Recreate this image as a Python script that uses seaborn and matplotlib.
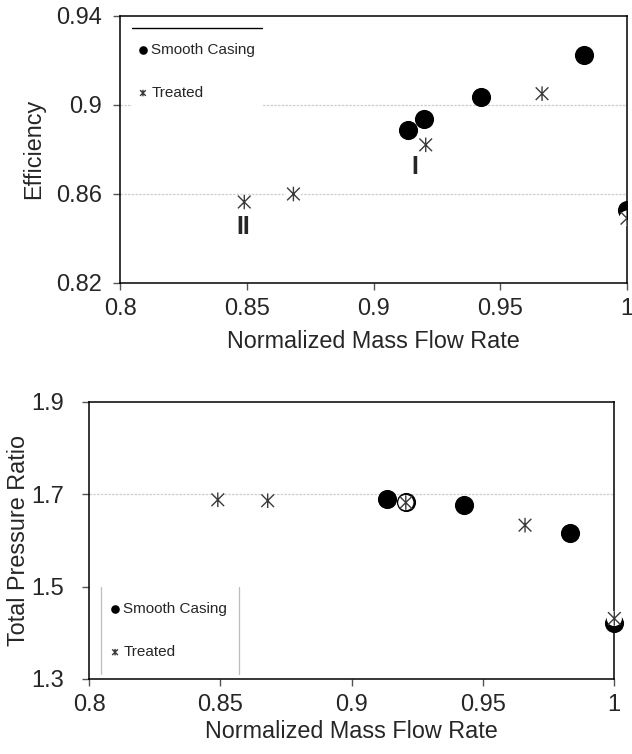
import matplotlib
matplotlib.use("Agg")
import matplotlib.pyplot as plt
from matplotlib.path import Path
from matplotlib.lines import Line2D
import seaborn as sns

# Smooth casing vs treated casing
smooth_flow = [0.9136, 0.9200, 0.9425, 0.9830, 1.0000]
smooth_eff = [0.8888, 0.8936, 0.9035, 0.9225, 0.8525]
smooth_flow_pr = [0.9136, 0.9206, 0.9426, 0.9830, 1.0000]
smooth_pr = [1.689, 1.684, 1.676, 1.617, 1.422]

treated_flow = [0.8490, 0.8684, 0.9206, 0.9665, 1.0000]
treated_eff = [0.8563, 0.8599, 0.8820, 0.9050, 0.8490]
treated_flow_pr = [0.8490, 0.8680, 0.9206, 0.9660, 1.0000]
treated_pr = [1.688, 1.686, 1.682, 1.633, 1.431]

x_ticks = [0.8, 0.85, 0.9, 0.95, 1.0]
x_tick_labels = ["0.8", "0.85", "0.9", "0.95", "1"]
eff_ticks = [0.82, 0.86, 0.9, 0.94]
eff_tick_labels = ["0.82", "0.86", "0.9", "0.94"]
pr_ticks = [1.3, 1.5, 1.7, 1.9]
pr_tick_labels = ["1.3", "1.5", "1.7", "1.9"]
eff_grid = [0.86, 0.9]
pr_grid = [1.7]

# operating point labels
point_labels = ["II", "I"]
point_label_x = [0.8485, 0.9164]
point_label_y = [0.8450, 0.8720]

sns.set_style("white")
plt.rcParams["font.family"] = ["Liberation Sans", "DejaVu Sans"]

# asterisk marker: an X with a vertical bar through it
star = Path(
    [(-1, -1), (1, 1), (-1, 1), (1, -1), (0, -1.15), (0, 1.15)],
    [Path.MOVETO, Path.LINETO, Path.MOVETO, Path.LINETO, Path.MOVETO, Path.LINETO],
)

fig = plt.figure(figsize=(6.32, 7.54), dpi=100)
ax1 = fig.add_axes([0.190, 0.625, 0.802, 0.354])
ax2 = fig.add_axes([0.141, 0.0995, 0.831, 0.3675])


def draw_panel(ax, fx, fy, tx, ty, grid_vals, clip=True):
    for g in grid_vals:
        ax.axhline(g, color="#cfcfcf", lw=0.9, ls=(0, (2, 1)), zorder=0)
    sns.scatterplot(x=fx, y=fy, ax=ax, marker="o", s=190, color="black",
                    edgecolor="black", linewidth=0, label="Smooth Casing",
                    zorder=3, clip_on=clip)
    # white backing that the Excel star marker carries
    sns.scatterplot(x=tx, y=ty, ax=ax, marker="o", s=120, color="white",
                    edgecolor="none", linewidth=0, zorder=4, legend=False,
                    clip_on=clip)
    sns.scatterplot(x=tx, y=ty, ax=ax, marker=star, s=110, facecolor="none",
                    edgecolor="#3a3a3a", linewidth=1.0, label="Treated",
                    zorder=5, clip_on=clip)
    for side in ["top", "bottom", "left", "right"]:
        ax.spines[side].set_visible(True)
        ax.spines[side].set_color("black")
        ax.spines[side].set_linewidth(1.1)
    ax.set_xlim(0.8, 1.0)
    ax.set_xticks(x_ticks)
    ax.set_xticklabels(x_tick_labels)
    ax.tick_params(axis="both", which="major", direction="out", length=5,
                   width=1, color="#555555", labelsize=17, bottom=True, left=True)


draw_panel(ax1, smooth_flow, smooth_eff, treated_flow, treated_eff, eff_grid)
ax1.set_ylim(0.82, 0.94)
ax1.set_yticks(eff_ticks)
ax1.set_yticklabels(eff_tick_labels)
ax1.tick_params(axis="y", pad=8)
ax1.tick_params(axis="x", pad=6)
ax1.set_xlabel("Normalized Mass Flow Rate", fontsize=16.8, labelpad=7)
ax1.set_ylabel("Efficiency", fontsize=16.8, labelpad=8)
for lab, lx, ly in zip(point_labels, point_label_x, point_label_y):
    ax1.text(lx, ly, lab, fontsize=18, fontweight="bold", ha="center", va="center")

draw_panel(ax2, smooth_flow_pr, smooth_pr, treated_flow_pr, treated_pr, pr_grid,
           clip=False)
ax2.set_ylim(1.3, 1.9)
ax2.set_yticks(pr_ticks)
ax2.set_yticklabels(pr_tick_labels)
ax2.tick_params(axis="y", pad=13)
ax2.tick_params(axis="x", pad=6)
ax2.set_xlabel("Normalized Mass Flow Rate", fontsize=16.8, labelpad=3)
ax2.set_ylabel("Total Pressure Ratio", fontsize=16.8, labelpad=1)

leg_kw = dict(loc="upper left", fontsize=11, markerscale=0.45, labelspacing=1.9,
              borderpad=0.45, handlelength=0.5, handletextpad=0.3,
              borderaxespad=0, fancybox=False, frameon=True, facecolor="white",
              edgecolor="none", framealpha=1)
leg1 = ax1.legend(bbox_to_anchor=(0.024, 0.924), **leg_kw)
leg2 = ax2.legend(bbox_to_anchor=(0.029, 0.302), **leg_kw)
for leg in (leg1, leg2):
    leg.set_zorder(10)

# the legend boxes only show part of their outline: a black top line on the
# upper one, thin grey side lines on the lower one
fig.canvas.draw()
W, H = fig.canvas.get_width_height()
ext = 8.4  # px the drawn outline sits outside the tight legend frame
b1 = leg1.get_window_extent()
fig.add_artist(Line2D([b1.x0 / W, b1.x1 / W],
                      [(b1.y1 + ext) / H, (b1.y1 + ext) / H],
                      color="black", lw=1.0))
b2 = leg2.get_window_extent()
for xv in (b2.x0 - 3, b2.x1 + 5):
    fig.add_artist(Line2D([xv / W, xv / W],
                          [(b2.y0 - ext) / H, (b2.y1 + ext) / H],
                          color="#bdbdbd", lw=0.9))

fig.savefig("out.png", dpi=100)
